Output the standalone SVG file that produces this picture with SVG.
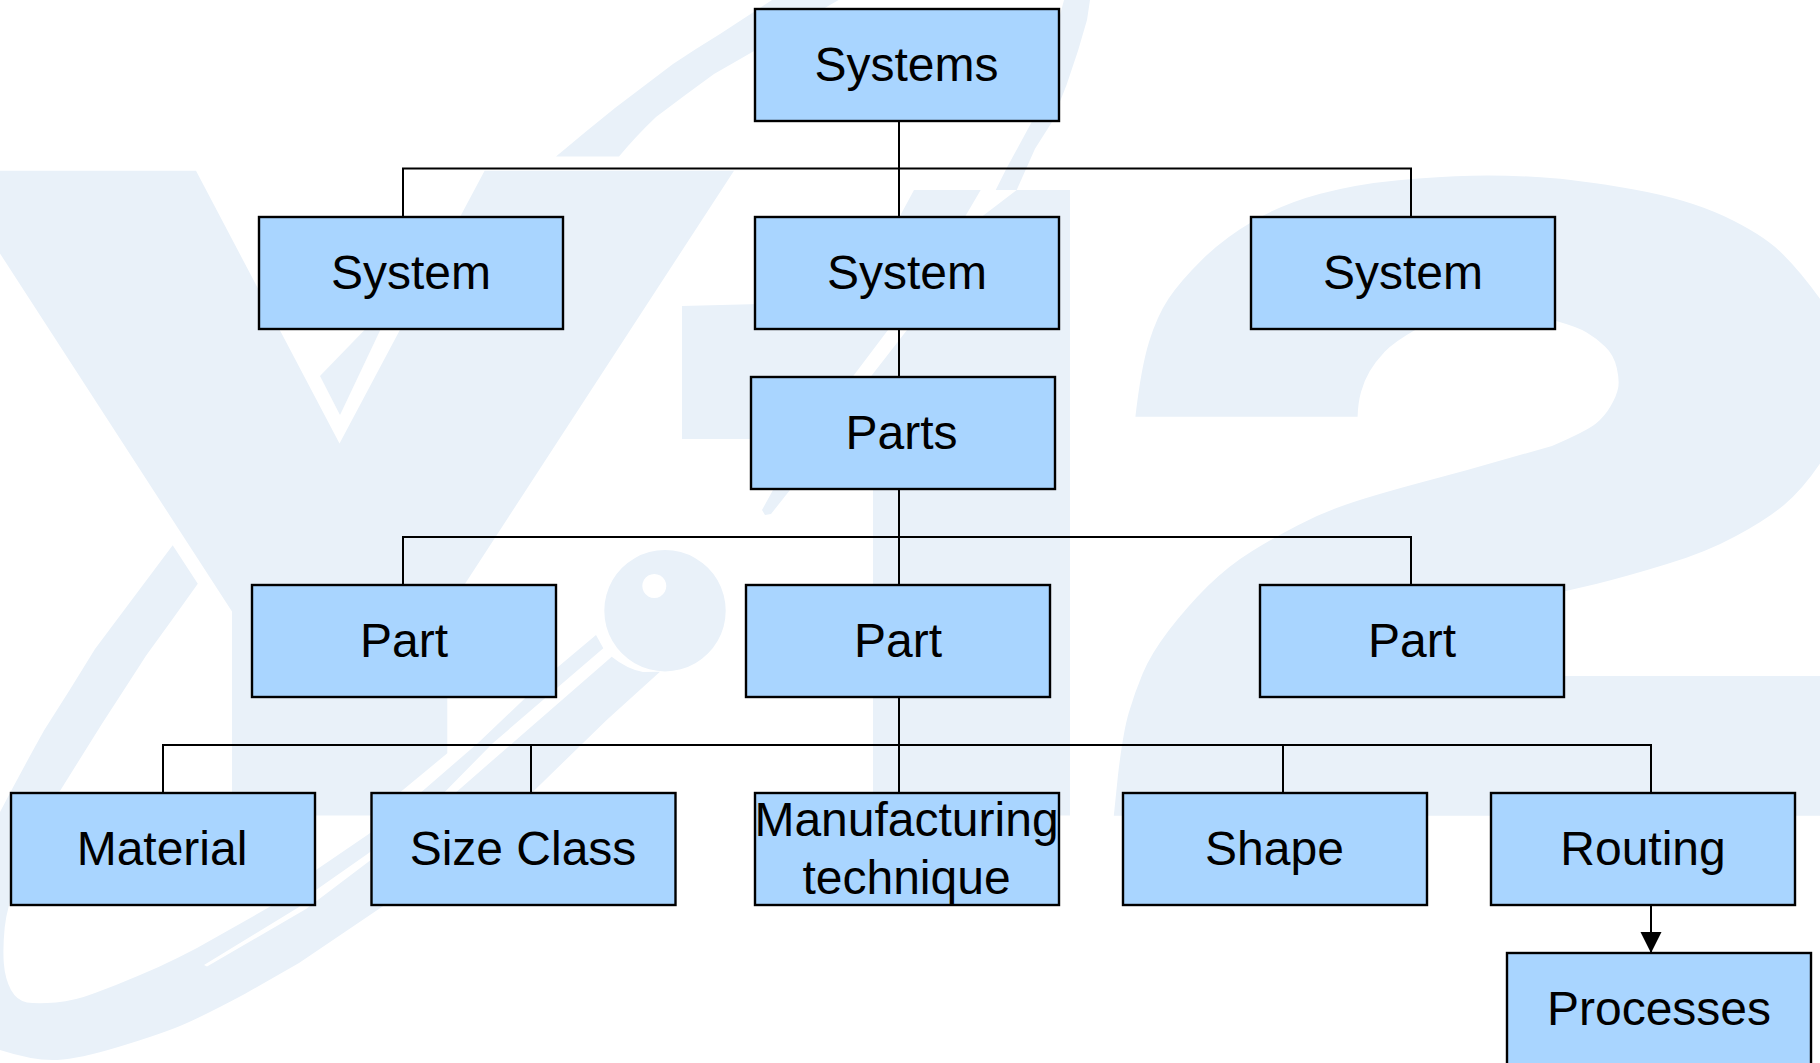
<svg xmlns="http://www.w3.org/2000/svg" width="1820" height="1063" viewBox="0 0 1820 1063">
<defs>
<style>
.wm{fill:#e9f1f9;stroke:none}
.box{fill:#a9d5ff;stroke:#000;stroke-width:2.4}
.lbl{font-family:"Liberation Sans",Arial,sans-serif;font-size:48px;fill:#000;text-anchor:middle}
.c{fill:none;stroke:#000;stroke-width:2}
</style>
<marker id="arrow" markerUnits="userSpaceOnUse" markerWidth="22" markerHeight="22" refX="21" refY="10.5" orient="auto"><path d="M0 0L21 10.5L0 21Z" fill="#000"/></marker>
</defs>
<rect width="1820" height="1063" fill="#fff"/>
<g id="watermark">
<polygon class="wm" points="0,170.7 196,170.7 339.5,443.5 484.6,170.7 734,170.7 447.3,611 447.3,753.3 372,815.5 232,815.5 232,611.6 0,253.5"/>
<polygon class="wm" points="320,376 365.500,329 366,320 385,320 340,415"/>
<path class="wm" d="M772 0L838.6 0Q800 22 766 44Q740 59 714 74Q685 95 656 117Q636 136 619 156.5L556 156.5Q585 132 615 108Q644 86 673 64Q697 48 720 34Z"/>
<path class="wm" fill-rule="evenodd" d="M914 190L1070 190L1070 815.5L873 815.5L873 439L682 439L682 306L760 304L820 290L870 250L900 216ZM1064 0L1090 0L1087 20L1078 50.7L1066.7 84.5L1052 122L1035 148.7L1016.7 190L981.7 216.7L907 330L870.7 376.7L790 490L771 514L765 515L762 510L773 490L852.7 376.7L888 330L965 216.7L980.7 190L995.7 190L1006.7 168L1031.7 122Z"/>
<path class="wm" d="M1135.4 416.7Q1141 368 1149 342Q1157 316 1168.5 298.7Q1180 281.4 1202 259.7Q1224 238 1253.8 220.7Q1283.7 203.4 1320.3 193.7Q1357 184 1398.4 180.2Q1439.8 176.5 1471.9 175.7Q1504 175 1540.7 177.2Q1577.5 179.5 1632.6 189.2Q1687.7 199 1724.3 216.3Q1761 233.7 1779.5 251Q1798 268.4 1820 298.8L1820 463.6Q1802.5 489.6 1784 505Q1765.8 520 1736 536Q1706 552.4 1667 564Q1628 576 1596 584L1563.7 591.5L1500 610L1500 676L1820 676L1820 815.7L1113.8 815.7L1118 775Q1123 732.4 1128.7 713Q1134.4 693.4 1142.5 674Q1150.5 654.4 1168.7 630.5Q1187 606.7 1207.8 586Q1228.6 565.5 1251.5 551.4Q1274.5 537.3 1297.5 525.4Q1320.4 513.4 1345.6 504.7Q1370.9 496 1419 483L1467.3 470L1552 446Q1586.7 431 1596 423.5Q1605 416 1610.7 406Q1616.5 396.3 1618 388.6Q1619.7 381 1616.8 368Q1614 355 1605 346.4Q1596 337.8 1586.7 332.4Q1577.5 327 1554.5 320.5L1480 316L1416.8 329Q1393.9 342 1384.7 351.8Q1375.5 361.6 1369.7 371.3Q1364 381 1361 392Q1358 402.8 1357.6 416.7Z"/>
<path class="wm" d="M596 635L603.3 648.3L493 743L445 791.700L368.8 853L316 890L299 907L204 965L207 966.5L306 909L368.8 861.4L456.7 791.7L493 760L611.7 656.7Q627 669 643 672L660 671.7L606.7 720L533 791.7L384 905.6L299 963L244.7 994Q197 1019.5 175 1028Q153 1036.5 116.5 1047.5Q80 1058.6 57 1060Q34 1061 0 1050L0 812Q22 770 44 730.5Q70 690 95 649Q134 597 172.7 545.3L197.8 583.7Q172 620 146 655.8Q124 690 102 723.7L59.5 791.7L30 850L18 878Q6.8 907 4.7 927.5Q2.7 948 3.8 963Q5 978.7 11 990Q17 1000.8 27 1002.4Q37.4 1004 56 1002.4Q74.8 1000.8 95 993Q115.6 985.5 137.700 976Q159.8 966.8 178.4 957.4L197 948L272 905.6L316 870L368.8 834L421.7 791.7L478 743L556.7 668Z"/>
<path class="wm" fill-rule="evenodd" d="M665 550a60.7 60.7 0 1 0 0.01 0ZM654.3 574a12 12 0 1 1 -0.01 0Z"/>
</g>
<g id="connectors">
<path class="c" d="M899 121V217M403 217V168.5H1411V217"/>
<path class="c" d="M899 329V377"/>
<path class="c" d="M899 489V585M403 585V537H1411V585"/>
<path class="c" d="M899 697V793M163 793V745H1651V793M531 745V793M1283 745V793"/>
<path class="c" d="M1651 905V953" marker-end="url(#arrow)"/>
</g>
<g id="systems"><rect class="box" x="755" y="9" width="304" height="112"/><text class="lbl" x="906.5" y="81">Systems</text></g>
<g id="system-1"><rect class="box" x="259" y="217" width="304" height="112"/><text class="lbl" x="411" y="289">System</text></g>
<g id="system-2"><rect class="box" x="755" y="217" width="304" height="112"/><text class="lbl" x="907" y="289">System</text></g>
<g id="system-3"><rect class="box" x="1251" y="217" width="304" height="112"/><text class="lbl" x="1403" y="289">System</text></g>
<g id="parts"><rect class="box" x="751" y="377" width="304" height="112"/><text class="lbl" x="901.5" y="449">Parts</text></g>
<g id="part-1"><rect class="box" x="252" y="585" width="304" height="112"/><text class="lbl" x="404" y="657">Part</text></g>
<g id="part-2"><rect class="box" x="746" y="585" width="304" height="112"/><text class="lbl" x="898" y="657">Part</text></g>
<g id="part-3"><rect class="box" x="1260" y="585" width="304" height="112"/><text class="lbl" x="1412" y="657">Part</text></g>
<g id="material"><rect class="box" x="11" y="793" width="304" height="112"/><text class="lbl" x="162" y="865">Material</text></g>
<g id="size-class"><rect class="box" x="371.500" y="793" width="304" height="112"/><text class="lbl" x="523" y="865">Size Class</text></g>
<g id="manufacturing-technique"><rect class="box" x="755" y="793" width="304" height="112"/><text class="lbl" x="906.500" y="836">Manufacturing</text><text class="lbl" x="906.500" y="894">technique</text></g>
<g id="shape"><rect class="box" x="1123" y="793" width="304" height="112"/><text class="lbl" x="1274.500" y="865">Shape</text></g>
<g id="routing"><rect class="box" x="1491" y="793" width="304" height="112"/><text class="lbl" x="1643" y="865">Routing</text></g>
<g id="processes"><rect class="box" x="1507" y="953" width="304" height="130"/><text class="lbl" x="1659" y="1025">Processes</text></g>
</svg>
